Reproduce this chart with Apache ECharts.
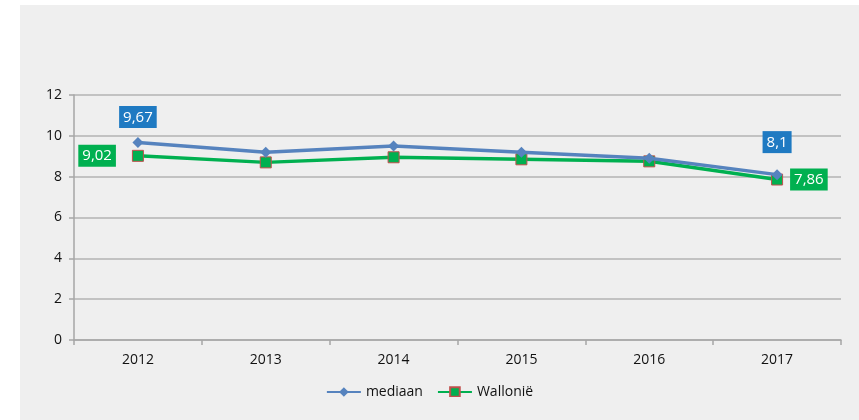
<!DOCTYPE html>
<html>
<head>
<meta charset="UTF-8">
<title>mediaan Wallonië</title>
<script src="https://cdn.jsdelivr.net/npm/echarts@6/dist/echarts.min.js"></script>
<style>
  html, body { margin: 0; padding: 0; background: #ffffff; }
  #main { width: 859px; height: 420px; }
</style>
</head>
<body>
<div id="main"></div>
<script>
  var years = ['2012', '2013', '2014', '2015', '2016', '2017'];
  var mediaan = [9.67, 9.2, 9.5, 9.2, 8.9, 8.1];
  var wallonie = [9.02, 8.7, 8.95, 8.85, 8.75, 7.86];
  var yTicks = [0, 2, 4, 6, 8, 10, 12];

  function comma(v) {
    return String(v).replace('.', ',');
  }

  // only first and last point get a label box
  function withLabels(values, first, last, bg) {
    return values.map(function (v, i) {
      var item = { value: v };
      var pos = i === 0 ? first : (i === values.length - 1 ? last : null);
      if (pos) {
        item.label = {
          show: true,
          position: pos[0],
          distance: pos[1],
          backgroundColor: bg,
          color: '#ffffff',
          fontSize: 15,
          fontFamily: 'Open Sans',
          padding: [4, 4, 3, 4],
          formatter: function (p) { return comma(p.value); }
        };
      }
      return item;
    });
  }

  var myChart = echarts.init(document.getElementById('main'));
  var option = {
    backgroundColor: '#ffffff',
    animation: false,
    graphic: [
      { type: 'rect', z: -10, shape: { x: 20, y: 5, width: 839, height: 415 }, style: { fill: '#efefef' } },
      // the legend is cut off at the bottom in the original
      { type: 'rect', z: 100, shape: { x: 20, y: 397, width: 839, height: 23 }, style: { fill: '#efefef' } }
    ],
    grid: { left: 74, right: 18, top: 95, bottom: 80 },
    legend: {
      bottom: 16,
      left: 'center',
      itemWidth: 34,
      itemHeight: 12,
      itemGap: 14,
      textStyle: { fontFamily: 'Open Sans', fontSize: 14, color: '#111' },
      data: ['mediaan', 'Wallonië']
    },
    xAxis: {
      type: 'category',
      data: years,
      boundaryGap: true,
      axisLine: { lineStyle: { color: '#a6a6a6', width: 1.5 } },
      axisTick: { show: true, length: 5, lineStyle: { color: '#a6a6a6', width: 1.5 } },
      axisLabel: { color: '#111', fontSize: 14, fontFamily: 'Open Sans', margin: 13 }
    },
    yAxis: {
      type: 'value',
      min: yTicks[0],
      max: yTicks[yTicks.length - 1],
      interval: 2,
      axisLine: { show: true, lineStyle: { color: '#a6a6a6', width: 1.5 } },
      axisTick: { show: true, length: 5, lineStyle: { color: '#a6a6a6', width: 1.5 } },
      axisLabel: { color: '#111', fontSize: 14, fontFamily: 'Open Sans', margin: 12 },
      splitLine: { lineStyle: { color: '#b3b3b3', width: 1.5 } }
    },
    series: [
      {
        name: 'mediaan',
        type: 'line',
        symbol: 'diamond',
        symbolSize: 11,
        color: '#5683be',
        lineStyle: { width: 3.5, color: '#5683be' },
        itemStyle: { color: '#5683be' },
        data: withLabels(mediaan, ['top', 9], ['top', 16], '#1f7ac2'),
        z: 3
      },
      {
        name: 'Wallonië',
        type: 'line',
        symbol: 'rect',
        symbolSize: 11,
        color: '#00b050',
        lineStyle: { width: 3.5, color: '#00b050' },
        itemStyle: { color: '#00b050', borderColor: '#c0504d', borderWidth: 1 },
        data: withLabels(wallonie, ['left', 16], ['right', 7], '#00b050'),
        z: 2
      }
    ]
  };
  myChart.setOption(option);
</script>
</body>
</html>
